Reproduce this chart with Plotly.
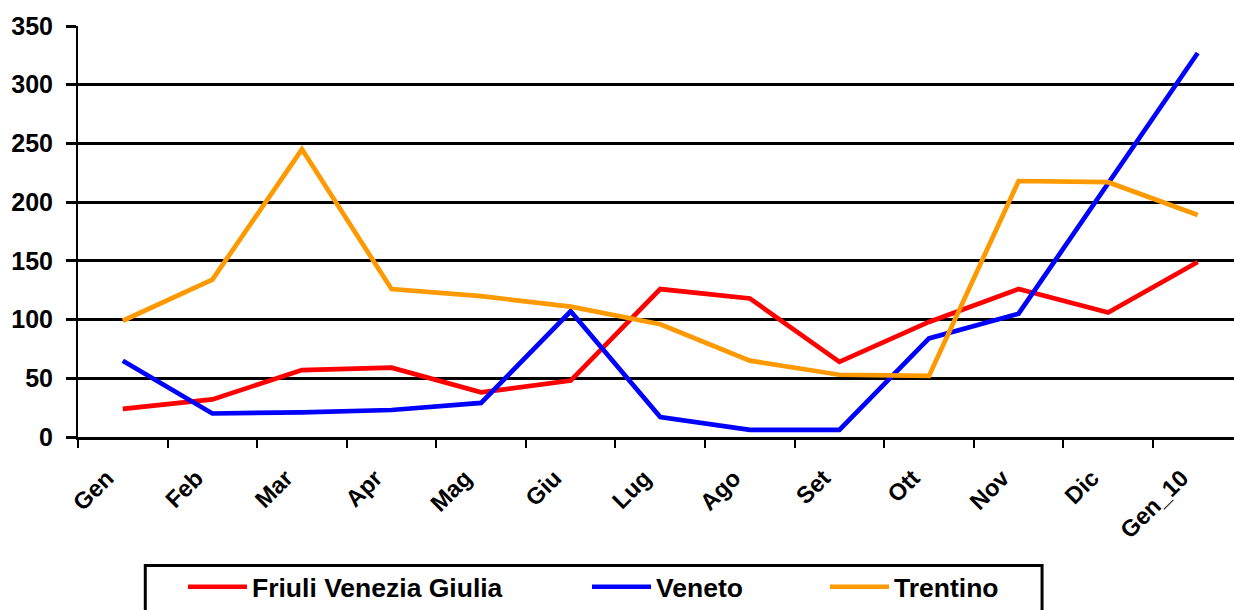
import plotly.graph_objects as go

months = ["Gen", "Feb", "Mar", "Apr", "Mag", "Giu", "Lug", "Ago", "Set", "Ott", "Nov", "Dic", "Gen_10"]
friuli = [24, 32, 57, 59, 38, 48, 126, 118, 64, 98, 126, 106, 149]
veneto = [65, 20, 21, 23, 29, 107, 17, 6, 6, 84, 105, 216, 327]
trentino = [99, 134, 245, 126, 120, 111, 96, 65, 53, 52, 218, 217, 189]
y_ticks = [0, 50, 100, 150, 200, 250, 300, 350]

W, H = 1234, 610
L, R, T, B = 77.7, 0, 26.3, 172.5

fig = go.Figure()
series = [("Friuli Venezia Giulia", friuli, "#FF0000", "legend"),
          ("Veneto", veneto, "#0000FF", "legend2"),
          ("Trentino", trentino, "#FF9900", "legend3")]
for name, vals, col, lg in series:
    fig.add_trace(go.Scatter(x=months, y=vals, name=name, mode="lines",
                             line=dict(color=col, width=4.7), legend=lg))

font_l = dict(family="Liberation Sans, Arial", size=26.5, color="black", weight="bold")
def leg(px, py):
    return dict(xref="container", yref="container", x=px / W, y=1 - py / H,
                xanchor="left", yanchor="middle", orientation="h",
                bgcolor="rgba(0,0,0,0)", borderwidth=0, font=font_l,
                itemwidth=59)

pw = W - L - R
ph = H - T - B
def px2paper_x(px):
    return (px - L) / pw
def py2paper_y(py):
    return (H - B - py) / ph

fig.update_layout(
    width=W, height=H,
    margin=dict(l=L, r=R, t=T, b=B, autoexpand=False),
    plot_bgcolor="white", paper_bgcolor="white",
    showlegend=True,
    legend=leg(183, 587),
    legend2=leg(587, 587),
    legend3=leg(825, 587),
    xaxis=dict(type="category", range=[-0.5, 12.405], tickson="boundaries",
               ticks="outside", ticklen=8, tickwidth=2, tickcolor="black",
               showline=True, linecolor="black", linewidth=3, showgrid=False,
               tickangle=-45, ticklabelstandoff=15, ticklabelshift=-16,
               tickfont=dict(family="Liberation Sans, Arial", size=23.5, color="black", weight="bold")),
    yaxis=dict(range=[0, 350], tickvals=y_ticks, ticks="outside", ticklen=10,
               tickwidth=3, tickcolor="black", showline=True, linecolor="black",
               linewidth=2, showgrid=True, gridcolor="black", gridwidth=3,
               zeroline=False, ticklabelstandoff=8,
               tickfont=dict(family="Liberation Sans, Arial", size=25, color="black", weight="bold")),
    shapes=[dict(type="rect", xref="paper", yref="paper",
                 x0=px2paper_x(145), x1=px2paper_x(1042),
                 y0=py2paper_y(566), y1=py2paper_y(630),
                 line=dict(color="black", width=3), fillcolor="rgba(0,0,0,0)", layer="above")],
)

fig.write_html("out.html", config={"displayModeBar": False},
               post_script="document.body.style.margin='0';document.body.style.overflow='hidden';")
